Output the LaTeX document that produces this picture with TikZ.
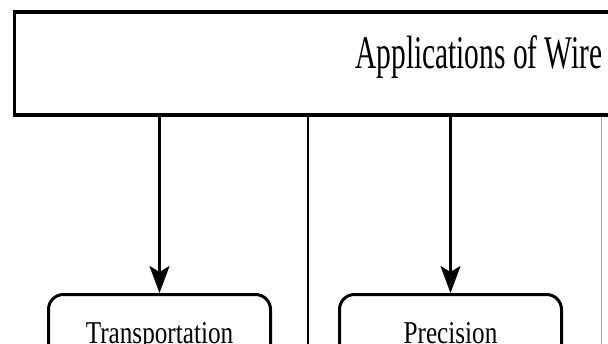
\documentclass[tikz,border=0pt]{standalone}
\usepackage{fontspec}
\setmainfont{Liberation Serif}
\usepackage{graphicx}
\usepackage{tikz}
\usetikzlibrary{positioning,arrows.meta}

\begin{document}
\begin{tikzpicture}[x=1pt, y=-1pt,
    titlebox/.style={draw, line width=3.5pt, inner sep=0pt, minimum width=929pt, minimum height=103pt,
        text height=32pt, text depth=23pt, font=\fontsize{29.4}{30}\selectfont},
    appbox/.style={draw, line width=3pt, rounded corners=15pt, inner sep=0pt, anchor=north,
        minimum width=222pt, minimum height=83pt, text height=22pt, text depth=7pt,
        font=\fontsize{25.2}{26}\selectfont},
    feed/.style={line width=2.5pt, -{Stealth[length=27pt, width=20pt, inset=6pt]}},
    plain/.style={line width=2pt}]
\useasboundingbox (0,0) rectangle (608,343);
\clip (0,0) rectangle (608,343);

\node[titlebox] (title) at (479,63.5) {\scalebox{1}[1.59]{Applications of Wire}};

\node[appbox] (transport) at (159.5,293) {\scalebox{1}[1.26]{Transportation}};
\node[appbox] (precision) at (450.5,293) {\scalebox{1}[1.26]{Precision}};

\coordinate (mid_end) at (308,360);
\coordinate (right_end) at (601,360);

\draw[feed] (title.south -| transport.north) -- (transport.north);
\draw[feed] (title.south -| precision.north) -- (precision.north);
\draw[plain] (title.south -| mid_end) -- (mid_end);
\draw[gray!70, line width=1pt] (title.south -| right_end) -- (right_end);

\end{tikzpicture}
\end{document}
